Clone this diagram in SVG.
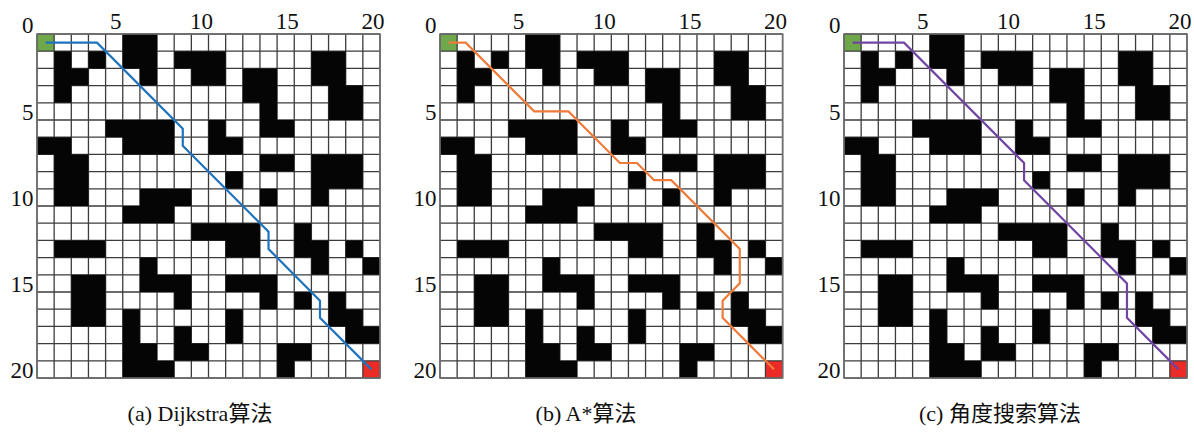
<svg xmlns="http://www.w3.org/2000/svg" xmlns:xlink="http://www.w3.org/1999/xlink" width="1194" height="441" viewBox="0 0 1194 441">
<style>
.lbl{font-family:"Liberation Serif","Times New Roman",serif;font-size:23px;fill:#111}
.end{text-anchor:end}
.mid{text-anchor:middle}
.cap{font-family:"Liberation Serif","Noto Sans CJK SC",serif;font-size:22px;fill:#111;text-anchor:middle}
.grid{fill:none;stroke:#3c3c3c;stroke-width:1.3}
.border{fill:none;stroke:#707070;stroke-width:1.6}
.obs{fill:#050505}
.route{fill:none;stroke-width:2.2;stroke-linejoin:miter}
</style>
<defs>
<path id="gridlines" class="grid" vector-effect="non-scaling-stroke" d="M0 0V20M1 0V20M2 0V20M3 0V20M4 0V20M5 0V20M6 0V20M7 0V20M8 0V20M9 0V20M10 0V20M11 0V20M12 0V20M13 0V20M14 0V20M15 0V20M16 0V20M17 0V20M18 0V20M19 0V20M20 0V20M0 0H20M0 1H20M0 2H20M0 3H20M0 4H20M0 5H20M0 6H20M0 7H20M0 8H20M0 9H20M0 10H20M0 11H20M0 12H20M0 13H20M0 14H20M0 15H20M0 16H20M0 17H20M0 18H20M0 19H20M0 20H20"/>
<path id="obstacles" class="obs" d="M5 0h2v1h-2z M1 1h1v1h-1z M3 1h1v1h-1z M5 1h2v1h-2z M8 1h3v1h-3z M16 1h2v1h-2z M1 2h2v1h-2z M6 2h1v1h-1z M9 2h2v1h-2z M12 2h2v1h-2z M16 2h2v1h-2z M1 3h1v1h-1z M12 3h2v1h-2z M17 3h2v1h-2z M13 4h1v1h-1z M17 4h2v1h-2z M4 5h4v1h-4z M10 5h1v1h-1z M13 5h2v1h-2z M0 6h2v1h-2z M5 6h3v1h-3z M10 6h2v1h-2z M1 7h2v1h-2z M13 7h2v1h-2z M16 7h3v1h-3z M1 8h2v1h-2z M11 8h1v1h-1z M16 8h3v1h-3z M1 9h2v1h-2z M6 9h3v1h-3z M13 9h1v1h-1z M16 9h1v1h-1z M5 10h3v1h-3z M9 11h4v1h-4z M15 11h1v1h-1z M1 12h3v1h-3z M11 12h2v1h-2z M15 12h2v1h-2z M18 12h1v1h-1z M6 13h1v1h-1z M16 13h1v1h-1z M19 13h1v1h-1z M2 14h2v1h-2z M6 14h3v1h-3z M11 14h3v1h-3z M2 15h2v1h-2z M8 15h1v1h-1z M13 15h1v1h-1z M15 15h1v1h-1z M17 15h1v1h-1z M2 16h2v1h-2z M5 16h1v1h-1z M11 16h1v1h-1z M17 16h2v1h-2z M5 17h1v1h-1z M8 17h1v1h-1z M11 17h1v1h-1z M18 17h2v1h-2z M5 18h2v1h-2z M8 18h2v1h-2z M14 18h2v1h-2z M5 19h3v1h-3z M14 19h1v1h-1z"/>
<g id="board">
<rect x="0" y="0" width="20" height="20" fill="#ffffff"/>
<rect x="0" y="0" width="1" height="1" fill="#6fa84a"/>
<rect x="19" y="19" width="1" height="1" fill="#ec2a26"/>
<use xlink:href="#gridlines"/>
<use xlink:href="#obstacles"/>
<rect class="border" vector-effect="non-scaling-stroke" x="0" y="0" width="20" height="20"/>
</g>
</defs>
<rect width="1194" height="441" fill="#ffffff"/>

<g id="panel-a">
<use xlink:href="#board" transform="translate(37,34) scale(17.15,17.2)"/>
<text class="lbl end" x="33.5" y="33">0</text>
<text class="lbl mid" x="115.7" y="29">5</text>
<text class="lbl mid" x="201.4" y="29">10</text>
<text class="lbl mid" x="287.2" y="29">15</text>
<text class="lbl mid" x="372.9" y="29">20</text>
<text class="lbl end" x="33.5" y="120.4">5</text>
<text class="lbl end" x="33.5" y="206.4">10</text>
<text class="lbl end" x="33.5" y="292.4">15</text>
<text class="lbl end" x="33.5" y="378.4">20</text>
<text class="cap" x="200" y="421">(a) Dijkstra算法</text>
</g>

<g id="panel-b">
<use xlink:href="#board" transform="translate(440,34) scale(17.13,17.2)"/>
<text class="lbl end" x="436.5" y="33">0</text>
<text class="lbl mid" x="518.6" y="29">5</text>
<text class="lbl mid" x="604.2" y="29">10</text>
<text class="lbl mid" x="689.9" y="29">15</text>
<text class="lbl mid" x="775.5" y="29">20</text>
<text class="lbl end" x="436.5" y="120.4">5</text>
<text class="lbl end" x="436.5" y="206.4">10</text>
<text class="lbl end" x="436.5" y="292.4">15</text>
<text class="lbl end" x="436.5" y="378.4">20</text>
<text class="cap" x="586" y="421">(b) A*算法</text>
</g>

<g id="panel-c">
<use xlink:href="#board" transform="translate(844,34) scale(17.15,17.2)"/>
<text class="lbl end" x="840.5" y="33">0</text>
<text class="lbl mid" x="922.7" y="29">5</text>
<text class="lbl mid" x="1008.4" y="29">10</text>
<text class="lbl mid" x="1094.2" y="29">15</text>
<text class="lbl mid" x="1179.9" y="29">20</text>
<text class="lbl end" x="840.5" y="120.4">5</text>
<text class="lbl end" x="840.5" y="206.4">10</text>
<text class="lbl end" x="840.5" y="292.4">15</text>
<text class="lbl end" x="840.5" y="378.4">20</text>
<text class="cap" x="1000" y="421">(c) 角度搜索算法</text>
</g>

<g id="paths">
<path class="route" stroke="#1f72bd" vector-effect="non-scaling-stroke" transform="translate(37,34) scale(17.15,17.2)" d="M0.5 0.5L3.5 0.5L8.5 5.5L8.5 6.5L13.5 11.5L13.5 12.5L16.5 15.5L16.5 16.5L19.5 19.5"/>
<path class="route" stroke="#ee7b3a" vector-effect="non-scaling-stroke" transform="translate(440,34) scale(17.13,17.2)" d="M0.5 0.5L1.5 0.5L5.5 4.5L7.5 4.5L10.5 7.5L11.5 7.5L12.5 8.5L13.5 8.5L17.5 12.5L17.5 14.5L16.5 15.5L16.5 16.5L19.5 19.5"/>
<path class="route" stroke="#7145a3" vector-effect="non-scaling-stroke" transform="translate(844,34) scale(17.15,17.2)" d="M0.5 0.5L3.5 0.5L10.5 7.5L10.5 8.5L16.5 14.5L16.5 16.5L19.5 19.5"/>
</g>
</svg>
